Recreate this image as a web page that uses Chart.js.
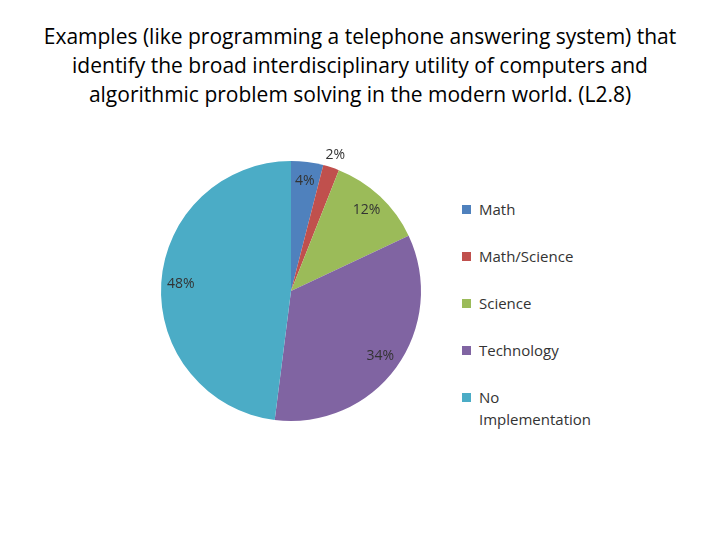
<!DOCTYPE html>
<html>
<head>
<meta charset="utf-8">
<script src="https://cdn.jsdelivr.net/npm/chart.js@4"></script>
<style>
  body { margin: 0; width: 720px; height: 540px; background: #fff; position: relative; font-family: "Open Sans", sans-serif; }
  #title { position: absolute; top: 22px; left: 0; width: 720px; text-align: center; font-size: 21px; line-height: 29px; color: #000; }
  #wrap { position: absolute; left: 131px; top: 131px; width: 320px; height: 320px; }
  #legend { position: absolute; left: 462px; top: 198px; font-size: 15px; color: #333; }
  .item { position: relative; height: 47px; padding-left: 17px; line-height: 22px; }
  .sw { position: absolute; left: 0; top: 7px; width: 9px; height: 9px; }
</style>
</head>
<body>
<div id="title">Examples (like programming a telephone answering system) that<br>identify the broad interdisciplinary utility of computers and<br>algorithmic problem solving in the modern world. (L2.8)</div>
<div id="wrap"><canvas id="pie" width="320" height="320"></canvas></div>
<div id="legend"></div>
<script>
const categories = ['Math', 'Math/Science', 'Science', 'Technology', 'No Implementation'];
const legendLabels = ['Math', 'Math/Science', 'Science', 'Technology', 'No<br>Implementation'];
const values = [4, 2, 12, 34, 48];
const colors = ['#4F81BD', '#C0504D', '#9BBB59', '#8064A2', '#4BACC6'];

// legend
const legend = document.getElementById('legend');
categories.forEach((c, i) => {
    const d = document.createElement('div');
    d.className = 'item';
    d.innerHTML = '<span class="sw" style="background:' + colors[i] + '"></span>' + legendLabels[i];
    legend.appendChild(d);
});

// percent labels
const pctLabels = {
    id: 'pctLabels',
    afterDatasetsDraw(chart) {
        const ctx = chart.ctx;
        const total = values.reduce((a, b) => a + b, 0);
        ctx.save();
        ctx.font = '14px "Open Sans", sans-serif';
        ctx.fillStyle = '#333';
        ctx.textAlign = 'center';
        ctx.textBaseline = 'middle';
        chart.getDatasetMeta(0).data.forEach((arc, i) => {
            const mid = (arc.startAngle + arc.endAngle) / 2;
            const f = values[i] / total < 0.03 ? 1.1 : 0.85;
            const x = arc.x + Math.cos(mid) * arc.outerRadius * f;
            const y = arc.y + Math.sin(mid) * arc.outerRadius * f;
            ctx.fillText(values[i] + '%', x, y);
        });
        ctx.restore();
    }
};

new Chart(document.getElementById('pie'), {
    type: 'pie',
    data: {
        labels: categories,
        datasets: [{ data: values, backgroundColor: colors, borderWidth: 0 }]
    },
    options: {
        responsive: false,
        animation: false,
        layout: { padding: 30 },
        plugins: { legend: { display: false }, tooltip: { enabled: false } }
    },
    plugins: [pctLabels]
});
</script>
</body>
</html>
